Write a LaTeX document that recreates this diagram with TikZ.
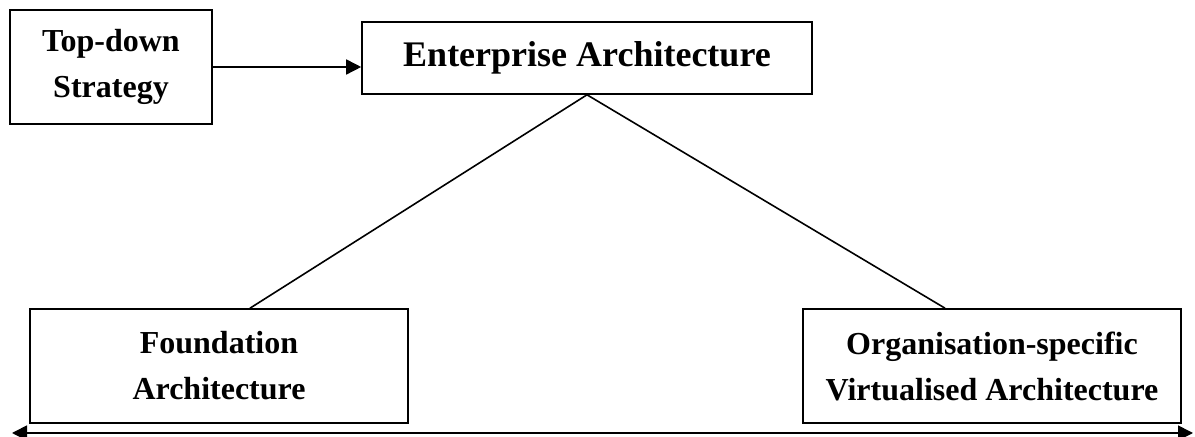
\documentclass[tikz,border=0pt]{standalone}
\usepackage{fontspec}
\setmainfont{Liberation Serif}
\usetikzlibrary{arrows.meta, positioning, calc}

\begin{document}
\begin{tikzpicture}[x=0.5pt, y=-0.5pt,
    archbox/.style={draw, rectangle, line width=0.8pt, align=center, font=\bfseries\fontsize{16}{23}\selectfont},
    link/.style={line width=0.8pt},
    tip/.style={-{Triangle[length=7.5pt,width=7.5pt]}}]
    \useasboundingbox (0,0) rectangle (1195,437);

    % Strategy
    \node[archbox, minimum width=101pt, minimum height=57pt] (strat) at (111,67) {Top-down\\Strategy};

    % Enterprise Architecture
    \node[archbox, minimum width=225pt, minimum height=36pt, font=\bfseries\fontsize{18}{22}\selectfont] (ea) at (587,58) {Enterprise Architecture};

    % Foundation and Organisation-specific
    \node[archbox, minimum width=189pt, minimum height=57pt] (fa) at (219,366) {Foundation\\Architecture};
    \node[archbox, minimum width=189pt, minimum height=57pt] (osva) at (992,366) {Organisation-specific\\Virtualised Architecture};

    % Range axis
    \coordinate (axisl) at (12,433);
    \coordinate (axisr) at (1193,433);

    \draw[link, tip] (strat.east) -- (strat.east -| ea.west);
    \draw[link] (ea.south) -- ([xshift=15.5pt]fa.north);
    \draw[link] (ea.south) -- ([xshift=-23.5pt]osva.north);
    \draw[link, {Triangle[length=7.5pt,width=7.5pt]}-{Triangle[length=7.5pt,width=7.5pt]}] (axisl) -- (axisr);
\end{tikzpicture}
\end{document}
